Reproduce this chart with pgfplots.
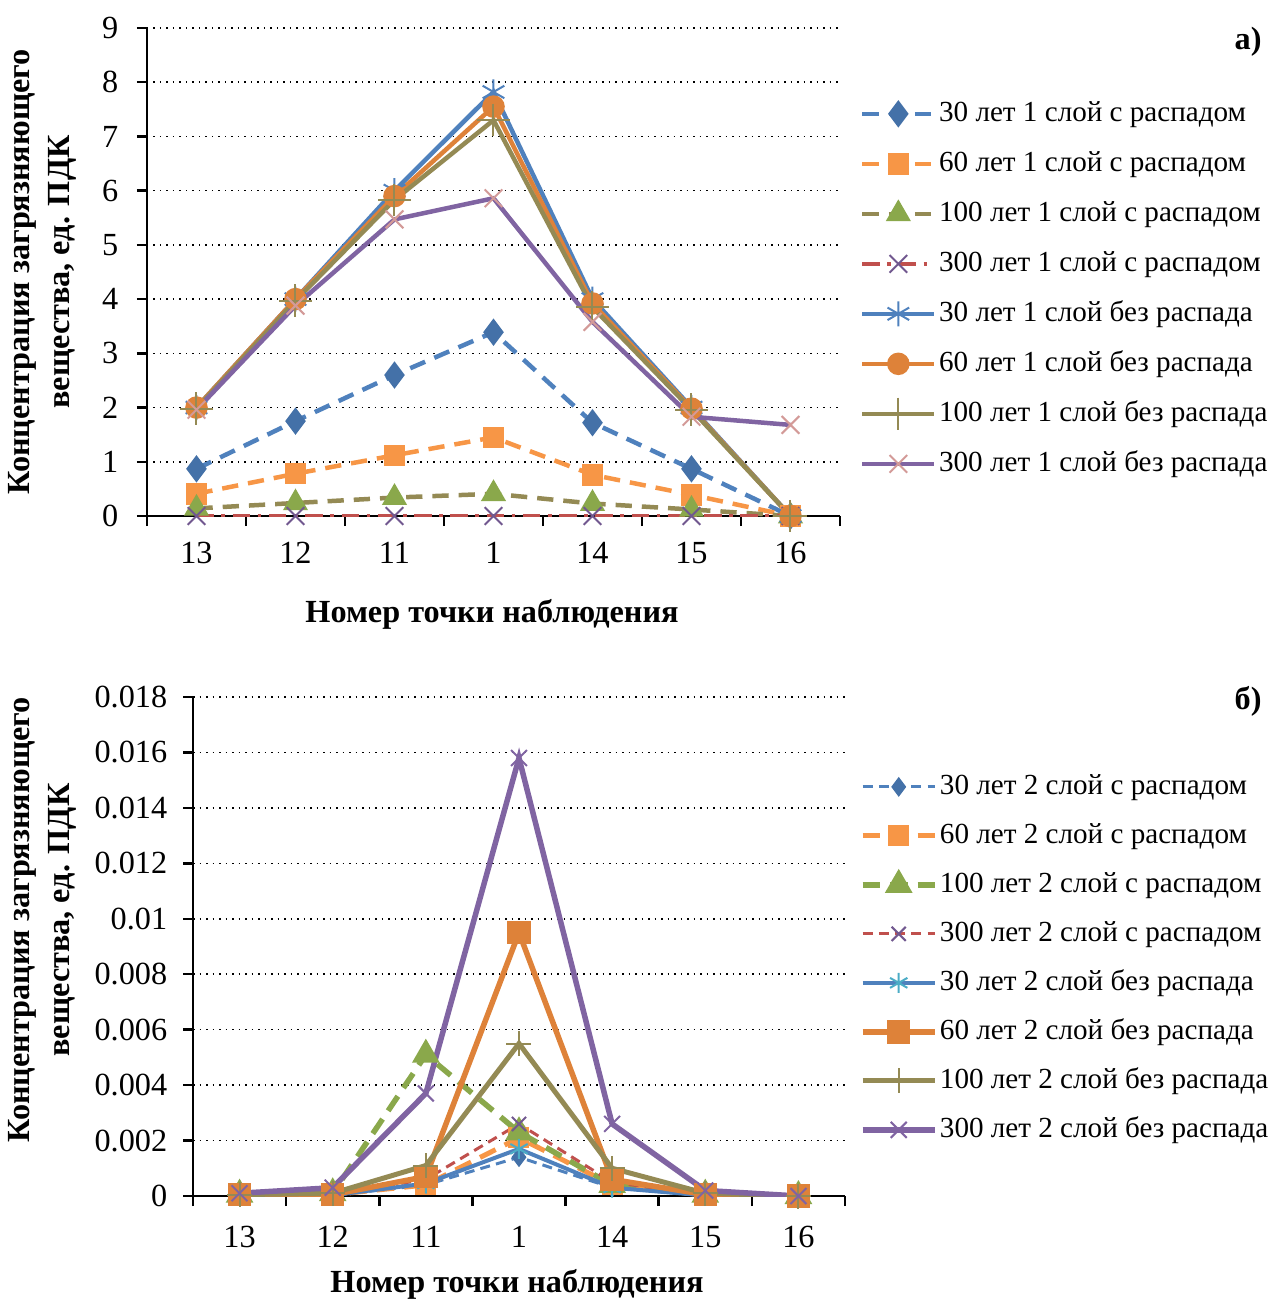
\documentclass[border=0pt]{standalone}
\usepackage{fontspec}
\setmainfont{Liberation Serif}
\usepackage{pgfplots}
\pgfplotsset{compat=1.18}
\definecolor{cBlue}{HTML}{4F81BD}
\definecolor{cBlueD}{HTML}{4471A8}
\definecolor{cOrange}{HTML}{F79646}
\definecolor{cOrangeD}{HTML}{DE8239}
\definecolor{cOlive}{HTML}{948A54}
\definecolor{cGreen}{HTML}{8AA84B}
\definecolor{cRed}{HTML}{C0504D}
\definecolor{cPurple}{HTML}{8064A2}
\definecolor{cPurpleD}{HTML}{71588F}
\definecolor{cPink}{HTML}{D39A98}
\definecolor{cTeal}{HTML}{4BACC6}
\pgfplotsset{
  base/.style={
    scale only axis,
    xmin=-0.5, xmax=6.5,
    xtick={-0.5,0.5,1.5,2.5,3.5,4.5,5.5,6.5},
    x tick label as interval,
    xticklabels={13,12,11,1,14,15,16},
    axis x line*=bottom, axis y line*=left,
    axis line style={-, black, line width=1pt},
    tick style={black, line width=1pt},
    tick align=outside, major tick length=4pt,
    ymajorgrids,
    major grid style={black, line width=0.6pt, dotted},
    /pgf/number format/assume math mode=true,
    ticklabel style={font=\fontsize{12.9}{14}\selectfont},
    legend cell align=left,
    legend image code/.code={\draw[mark repeat=2,mark phase=2] plot coordinates {(0pt,0pt)(14.4pt,0pt)(28.8pt,0pt)};},
    legend style={draw=none, fill=none, inner sep=0pt, outer sep=0pt,
      font=\fontsize{11.65}{14}\selectfont, anchor=north west,
      nodes={inner sep=1pt, text height=9pt, text depth=3pt},
      /tikz/every even column/.append style={column sep=2pt}},
  }
}
\begin{document}
\begin{tikzpicture}
\useasboundingbox (0,0) rectangle (509.6pt,-519.6pt);
% ---------- top chart ----------
\begin{axis}[base,
  at={(58.8pt,-11.2pt)}, anchor=north west,
  width=277.2pt, height=195.2pt,
  ymin=0, ymax=9, ytick={0,1,...,9},
  yticklabel style={xshift=-4pt},
  xticklabel style={yshift=-3pt},
  legend style={at={(1.029,0.86)}, row sep=6pt},
]
\addplot[cBlue, line width=1.8pt, dash pattern=on 6.5pt off 4pt, mark=diamond*, mark size=4pt, mark options={solid, fill=cBlueD, draw=cBlueD}]
  coordinates {(0,0.87)(1,1.75)(2,2.6)(3,3.39)(4,1.72)(5,0.87)(6,0)};
\addlegendentry{30 лет 1 слой с распадом}
\addplot[cOrange, line width=1.8pt, dash pattern=on 6.5pt off 4pt, mark=square*, mark size=3.4pt, mark options={solid, fill=cOrange, draw=cOrange}]
  coordinates {(0,0.41)(1,0.78)(2,1.12)(3,1.45)(4,0.76)(5,0.39)(6,0)};
\addlegendentry{60 лет 1 слой с распадом}
\addplot[cOlive, line width=1.8pt, dash pattern=on 6.5pt off 4pt, mark=triangle*, mark size=4pt, mark options={solid, fill=cGreen, draw=cGreen}]
  coordinates {(0,0.14)(1,0.24)(2,0.34)(3,0.41)(4,0.23)(5,0.12)(6,0)};
\addlegendentry{100 лет 1 слой с распадом}
\addplot[cRed, line width=1.8pt, dash pattern=on 7pt off 3pt on 1.5pt off 3pt, mark=x, mark size=5pt, mark options={solid, draw=cPurpleD, line width=0.8pt}]
  coordinates {(0,0)(1,0)(2,0)(3,0)(4,0)(5,0)(6,0)};
\addlegendentry{300 лет 1 слой с распадом}
\addplot[cBlue, line width=1.8pt, mark=asterisk, mark size=5pt, mark options={draw=cBlue, line width=0.8pt}]
  coordinates {(0,2.0)(1,4.0)(2,6.0)(3,7.82)(4,4.0)(5,2.0)(6,0)};
\addlegendentry{30 лет 1 слой без распада}
\addplot[cOrangeD, line width=1.8pt, mark=*, mark size=3.6pt, mark options={fill=cOrangeD, draw=cOrangeD}]
  coordinates {(0,2.0)(1,4.0)(2,5.9)(3,7.55)(4,3.92)(5,1.98)(6,0)};
\addlegendentry{60 лет 1 слой без распада}
\addplot[cOlive, line width=1.8pt, mark=+, mark size=6.5pt, mark options={draw=cOlive, line width=0.8pt}]
  coordinates {(0,1.98)(1,3.97)(2,5.83)(3,7.3)(4,3.85)(5,1.96)(6,0)};
\addlegendentry{100 лет 1 слой без распада}
\addplot[cPurple, line width=1.8pt, mark=x, mark size=5pt, mark options={draw=cPink, line width=0.8pt}]
  coordinates {(0,1.96)(1,3.88)(2,5.47)(3,5.86)(4,3.58)(5,1.83)(6,1.68)};
\addlegendentry{300 лет 1 слой без распада}
\end{axis}
% ---------- bottom chart ----------
\begin{axis}[base,
  at={(77.2pt,-278.8pt)}, anchor=north west,
  width=260.8pt, height=199.6pt,
  ymin=0, ymax=0.018, ytick={0,0.002,...,0.0181},
  scaled y ticks=false,
  yticklabel style={/pgf/number format/fixed, /pgf/number format/precision=3, xshift=-2.8pt},
  xticklabel style={yshift=-4.4pt},
  legend style={at={(1.023,0.855)}, row sep=5.6pt},
]
\addplot[cBlue, line width=1.2pt, dash pattern=on 4pt off 2.5pt, mark=diamond*, mark size=3pt, mark options={solid, fill=cBlueD, draw=cBlueD}]
  coordinates {(0,0.00003)(1,0.00002)(2,0.0004)(3,0.0014)(4,0.0003)(5,0.00002)(6,0)};
\addlegendentry{30 лет 2 слой с распадом}
\addplot[cOrange, line width=2pt, dash pattern=on 7pt off 4pt, mark=square*, mark size=3.2pt, mark options={solid, fill=cOrange, draw=cOrange}]
  coordinates {(0,0.00005)(1,0.00005)(2,0.0004)(3,0.0021)(4,0.0004)(5,0.00003)(6,0)};
\addlegendentry{60 лет 2 слой с распадом}
\addplot[cGreen, line width=2.2pt, dash pattern=on 7pt off 4pt, mark=triangle*, mark size=4.2pt, mark options={solid, fill=cGreen, draw=cGreen}]
  coordinates {(0,0.00005)(1,0.0001)(2,0.0051)(3,0.0023)(4,0.0004)(5,0.00005)(6,0)};
\addlegendentry{100 лет 2 слой с распадом}
\addplot[cRed, line width=1.2pt, dash pattern=on 4pt off 2.5pt, mark=x, mark size=4pt, mark options={solid, draw=cPurpleD, line width=0.8pt}]
  coordinates {(0,0.00003)(1,0.00005)(2,0.0006)(3,0.0026)(4,0.0005)(5,0.00003)(6,0)};
\addlegendentry{300 лет 2 слой с распадом}
\addplot[cBlue, line width=1.6pt, mark=asterisk, mark size=4pt, mark options={draw=cTeal, line width=0.8pt}]
  coordinates {(0,0.00003)(1,0.00003)(2,0.00045)(3,0.0017)(4,0.0003)(5,0.00002)(6,0)};
\addlegendentry{30 лет 2 слой без распада}
\addplot[cOrangeD, line width=2.2pt, mark=square*, mark size=3.6pt, mark options={fill=cOrangeD, draw=cOrangeD}]
  coordinates {(0,0.00005)(1,0.00005)(2,0.0007)(3,0.0095)(4,0.0006)(5,0.00005)(6,0)};
\addlegendentry{60 лет 2 слой без распада}
\addplot[cOlive, line width=2pt, mark=+, mark size=5pt, mark options={draw=cOlive, line width=0.8pt}]
  coordinates {(0,0.00005)(1,0.0001)(2,0.0011)(3,0.0055)(4,0.001)(5,0.0001)(6,0)};
\addlegendentry{100 лет 2 слой без распада}
\addplot[cPurple, line width=2.2pt, mark=x, mark size=4.5pt, mark options={draw=cPurple, line width=0.8pt}]
  coordinates {(0,0.0001)(1,0.0003)(2,0.0037)(3,0.0158)(4,0.0026)(5,0.0002)(6,0)};
\addlegendentry{300 лет 2 слой без распада}
\end{axis}
% ---------- labels ----------
\node[anchor=east, inner sep=0pt, font=\bfseries\fontsize{12.9}{14}\selectfont] at (504.8pt,-16.8pt) {а)};
\node[anchor=east, inner sep=0pt, font=\bfseries\fontsize{12.9}{14}\selectfont] at (504.8pt,-280.4pt) {б)};
\node[rotate=90, align=center, font=\bfseries\fontsize{12.9}{16}\selectfont] at (16.8pt,-108.8pt) {Концентрация загрязняющего\\вещества, ед. ПДК};
\node[rotate=90, align=center, font=\bfseries\fontsize{12.9}{16}\selectfont] at (16.8pt,-368pt) {Концентрация загрязняющего\\вещества, ед. ПДК};
\node[font=\bfseries\fontsize{12.9}{14}\selectfont] at (196.8pt,-245.6pt) {Номер точки наблюдения};
\node[font=\bfseries\fontsize{12.9}{14}\selectfont] at (206.8pt,-513.6pt) {Номер точки наблюдения};
\end{tikzpicture}
\end{document}
